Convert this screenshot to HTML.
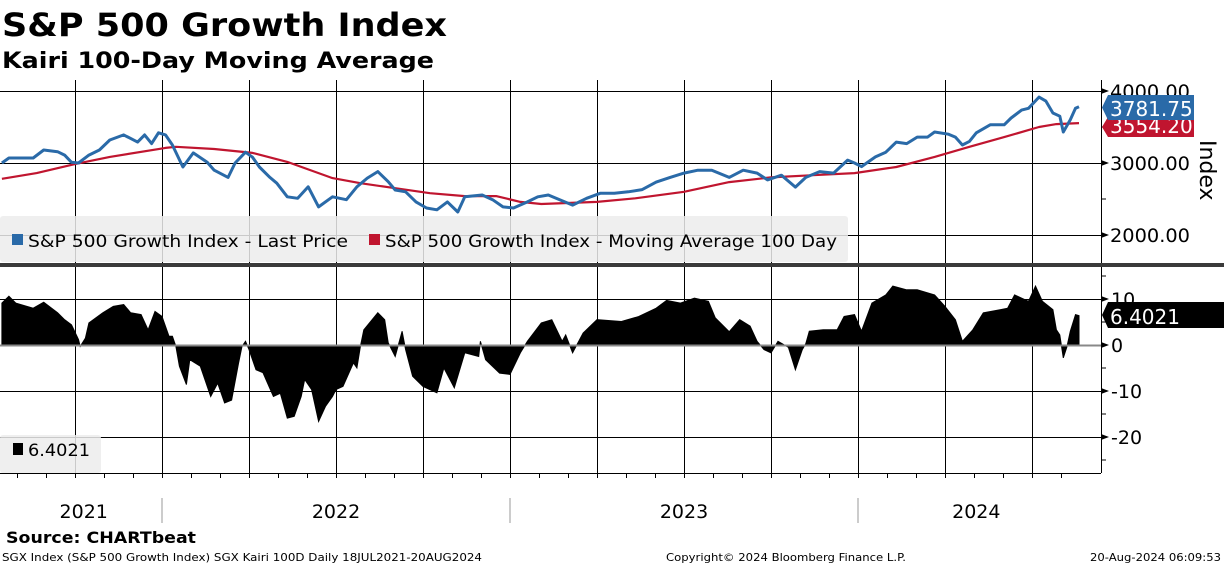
<!DOCTYPE html>
<html><head><meta charset="utf-8"><style>
html,body{margin:0;padding:0;background:#fff;}
svg{display:block;font-family:"DejaVu Sans","Liberation Sans",sans-serif;}
</style></head><body>
<svg id="chart" width="1224" height="566" viewBox="0 0 1224 566">
<text x="2" y="36" font-size="32" font-weight="bold" textLength="445" lengthAdjust="spacingAndGlyphs">S&amp;P 500 Growth Index</text>
<text x="2" y="68" font-size="22" font-weight="bold" textLength="432" lengthAdjust="spacingAndGlyphs">Kairi 100-Day Moving Average</text>
<g id="grid"></g>
<g id="series"></g>
<g id="axes"></g>
<rect x="0" y="216" width="848" height="46" rx="3" fill="#ececec" fill-opacity="0.85"/>
<rect x="12" y="234" width="11" height="11" fill="#2a6aa8"/>
<text x="28" y="247" font-size="17" textLength="320" lengthAdjust="spacingAndGlyphs">S&amp;P 500 Growth Index - Last Price</text>
<rect x="369" y="234" width="11" height="11" fill="#c0152f"/>
<text x="385" y="247" font-size="17" textLength="452" lengthAdjust="spacingAndGlyphs">S&amp;P 500 Growth Index - Moving Average 100 Day</text>
<rect x="0" y="263" width="1224" height="4" fill="#3a3a3a"/>
<rect x="0" y="435" width="101" height="38" rx="3" fill="#ececec" fill-opacity="0.85"/>
<rect x="13" y="443" width="10" height="12" fill="#000"/>
<text x="28" y="456" font-size="17" textLength="62" lengthAdjust="spacingAndGlyphs">6.4021</text>
<text x="6" y="543" font-size="16" font-weight="bold" textLength="190" lengthAdjust="spacingAndGlyphs">Source: CHARTbeat</text>
<text x="2" y="561" font-size="11" textLength="480" lengthAdjust="spacingAndGlyphs">SGX Index (S&amp;P 500 Growth Index) SGX Kairi 100D  Daily 18JUL2021-20AUG2024</text>
<text x="666" y="561" font-size="11" textLength="240" lengthAdjust="spacingAndGlyphs">Copyright© 2024 Bloomberg Finance L.P.</text>
<text x="1090" y="561" font-size="11" textLength="131" lengthAdjust="spacingAndGlyphs">20-Aug-2024 06:09:53</text>
</svg>
<script>
// ---- data ----
const priceDates = [2021.54,2021.56,2021.60,2021.63,2021.66,2021.70,2021.72,2021.74,2021.76,2021.79,2021.82,2021.85,2021.89,2021.93,2021.95,2021.97,2021.99,2022.01,2022.03,2022.06,2022.09,2022.13,2022.15,2022.19,2022.21,2022.24,2022.26,2022.28,2022.31,2022.33,2022.36,2022.39,2022.42,2022.45,2022.49,2022.53,2022.56,2022.59,2022.62,2022.65,2022.67,2022.70,2022.73,2022.76,2022.79,2022.82,2022.85,2022.87,2022.92,2022.95,2022.98,2023.01,2023.05,2023.08,2023.11,2023.13,2023.18,2023.22,2023.26,2023.30,2023.34,2023.38,2023.42,2023.46,2023.50,2023.54,2023.58,2023.63,2023.67,2023.71,2023.74,2023.78,2023.82,2023.85,2023.89,2023.93,2023.97,2023.99,2024.01,2024.05,2024.08,2024.11,2024.14,2024.17,2024.20,2024.22,2024.26,2024.28,2024.30,2024.32,2024.34,2024.38,2024.42,2024.44,2024.47,2024.49,2024.52,2024.54,2024.56,2024.58,2024.59,2024.61,2024.625,2024.635];
const priceValues = [3000,3070,3070,3070,3180,3157,3110,3010,3000,3110,3180,3320,3390,3290,3390,3270,3420,3390,3250,2945,3140,3010,2900,2800,3000,3150,3080,2945,2800,2720,2530,2510,2670,2390,2530,2490,2670,2790,2880,2740,2625,2600,2460,2375,2350,2460,2320,2530,2555,2490,2390,2375,2460,2530,2555,2515,2415,2510,2580,2580,2600,2630,2735,2800,2860,2900,2900,2800,2900,2860,2765,2830,2665,2800,2880,2860,3040,3000,2950,3085,3150,3290,3270,3360,3360,3430,3400,3360,3250,3300,3420,3530,3530,3625,3735,3760,3915,3860,3695,3650,3430,3600,3760,3782];
const maDates = [2021.54,2021.64,2021.75,2021.85,2022.01,2022.04,2022.15,2022.26,2022.36,2022.49,2022.57,2022.67,2022.77,2022.87,2022.96,2023.03,2023.09,2023.25,2023.36,2023.50,2023.63,2023.75,2023.87,2023.99,2024.11,2024.22,2024.32,2024.42,2024.52,2024.57,2024.635];
const maValues = [2780,2860,2985,3085,3210,3225,3195,3140,3015,2790,2720,2650,2580,2540,2540,2460,2430,2460,2510,2600,2735,2800,2830,2860,2945,3085,3225,3360,3500,3540,3554];
const kairiDates = [2021.54,2021.56,2021.58,2021.63,2021.66,2021.70,2021.72,2021.74,2021.76,2021.765,2021.78,2021.79,2021.83,2021.86,2021.89,2021.91,2021.94,2021.96,2021.98,2022.00,2022.02,2022.03,2022.04,2022.05,2022.07,2022.08,2022.11,2022.14,2022.16,2022.18,2022.20,2022.22,2022.23,2022.24,2022.25,2022.27,2022.29,2022.32,2022.34,2022.36,2022.38,2022.40,2022.41,2022.43,2022.45,2022.47,2022.49,2022.50,2022.52,2022.55,2022.56,2022.57,2022.58,2022.62,2022.64,2022.65,2022.67,2022.69,2022.70,2022.72,2022.75,2022.79,2022.81,2022.84,2022.87,2022.91,2022.915,2022.93,2022.97,2023.00,2023.03,2023.05,2023.09,2023.12,2023.15,2023.16,2023.18,2023.21,2023.25,2023.32,2023.37,2023.42,2023.45,2023.49,2023.53,2023.57,2023.59,2023.63,2023.66,2023.69,2023.71,2023.73,2023.75,2023.77,2023.80,2023.82,2023.84,2023.85,2023.86,2023.90,2023.94,2023.96,2023.99,2024.01,2024.04,2024.08,2024.10,2024.14,2024.17,2024.22,2024.25,2024.28,2024.30,2024.33,2024.36,2024.41,2024.43,2024.45,2024.49,2024.51,2024.53,2024.56,2024.57,2024.58,2024.59,2024.60,2024.61,2024.625,2024.635];
const kairiValues = [9.1,10.6,9.1,8,9.3,7,5.5,4.4,1.2,-0.3,1.5,4.8,7,8.4,8.8,7,6.6,3.3,7.3,6.2,1.9,1.9,-0.3,-4.6,-8.6,-3.2,-4.6,-11.2,-8.3,-12.6,-12,-3.9,-0.3,0.8,-1,-5.4,-6,-11.2,-10.5,-15.9,-15.5,-11.2,-7.5,-9.7,-16.6,-13.3,-11.2,-9.7,-9,-3.9,-5,-0.3,3.3,7,5.5,0.5,-2.5,3,-1,-6.8,-9,-10.4,-5,-9.3,-1.7,-2.5,0.8,-3.2,-6.1,-6.4,-1.7,0.8,4.8,5.5,0.8,2.2,-1.7,2.6,5.5,5.1,6.2,8,9.7,9.1,10.2,9.5,5.9,2.9,5.5,4.1,0.8,-1,-1.7,0.8,-0.5,-5.4,-1,0.3,3,3.3,3.3,6.2,6.6,3,9.1,10.9,12.8,12,12,10.9,8.4,5.5,0.8,3.3,7,7.7,8,10.9,9.5,12.8,9.5,7.7,3.3,2.2,-2.8,-0.5,3,6.6,6.4];
const priceTicks = [4000,3000,2000];
const priceTickLabels = ["4000.00","3000.00","2000.00"];
const kairiTicks = [10,0,-10,-20];
const kairiTickLabels = ["10","0","-10","-20"];
const yearLabels = ["2021","2022","2023","2024"];
const yearLabelPos = [2021.775,2022.5,2023.5,2024.34];
const lastPriceLabel = "3781.75";
const lastMaLabel = "3554.20";
const lastKairiLabel = "6.4021";

// ---- scales ----
const NS = "http://www.w3.org/2000/svg";
const X = t => 162 + (t - 2022) * 348;
const YP = v => 163 - (v - 3000) * 0.072;
const YK = v => 345 - v * 4.6;
const PLOT_R = 1101;
function mk(tag, attrs, parent){const e=document.createElementNS(NS,tag);for(const k in attrs)e.setAttribute(k,attrs[k]);parent.appendChild(e);return e;}
const grid=document.getElementById('grid'), series=document.getElementById('series'), axes=document.getElementById('axes');

// vertical quarterly grid
for(let y=2021.75;y<=2024.51;y+=0.25){
  const gx=Math.round(X(y))+0.5;
  const l=mk('line',{x1:gx,y1:80,x2:gx,y2:473,stroke:'#000','stroke-width':1},grid);
  
  
}
priceTicks.forEach(v=>{
  const l=mk('line',{x1:0,y1:YP(v)+0.5,x2:PLOT_R,y2:YP(v)+0.5,stroke:'#000','stroke-width':1},grid);
  
  
});
kairiTicks.forEach(v=>{
  const l=mk('line',{x1:0,y1:YK(v)+0.5,x2:PLOT_R,y2:YK(v)+0.5,stroke:v===0?'#888':'#000','stroke-width':v===0?2:1},grid);
  
  
});

// kairi area
let d='M'+X(kairiDates[0]).toFixed(1)+','+YK(0);
kairiDates.forEach((t,i)=>{d+=' L'+X(t).toFixed(1)+','+YK(kairiValues[i]).toFixed(1);});
d+=' L'+X(kairiDates[kairiDates.length-1]).toFixed(1)+','+YK(0)+' Z';
const ka=mk('path',{d:d,fill:'#000',stroke:'#000','stroke-width':1},series);


const zl=mk('line',{x1:0,y1:YK(0)+0.5,x2:PLOT_R,y2:YK(0)+0.5,stroke:'#888','stroke-width':2},series);



// MA and price lines
const maPts=maDates.map((t,i)=>X(t).toFixed(1)+','+YP(maValues[i]).toFixed(1)).join(' ');
const ma=mk('polyline',{points:maPts,fill:'none',stroke:'#c0152f','stroke-width':2.2,'stroke-linejoin':'round'},series);


const pPts=priceDates.map((t,i)=>X(t).toFixed(1)+','+YP(priceValues[i]).toFixed(1)).join(' ');
const pl=mk('polyline',{points:pPts,fill:'none',stroke:'#2a6aa8','stroke-width':3,'stroke-linejoin':'round'},series);



// axes
const ax=mk('line',{x1:PLOT_R+0.5,y1:80,x2:PLOT_R+0.5,y2:473,stroke:'#000','stroke-width':1},axes);


const xa=mk('line',{x1:0,y1:473.5,x2:PLOT_R,y2:473.5,stroke:'#000','stroke-width':1},axes);


function arrow(y){const a=mk('path',{d:`M${PLOT_R},${y-3} L${PLOT_R+8},${y} L${PLOT_R},${y+3} Z`,fill:'#000'},axes);
  
  }
priceTicks.forEach((v,i)=>{
  arrow(YP(v));
  const t=mk('text',{x:1110,y:YP(v)+7,'font-size':19,textLength:80,lengthAdjust:'spacingAndGlyphs'},axes);
  t.textContent=priceTickLabels[i];
  
  
});
[3500,2500].forEach(v=>{const m=mk('line',{x1:PLOT_R,y1:YP(v),x2:PLOT_R+5,y2:YP(v),stroke:'#000'},axes);
  
  });
kairiTicks.forEach((v,i)=>{
  arrow(YK(v));
  const t=mk('text',{x:1111,y:YK(v)+7,'font-size':19},axes);
  t.textContent=kairiTickLabels[i];
  
  
});
[15,5,-5,-15,-25].forEach(v=>{const m=mk('line',{x1:PLOT_R,y1:YK(v),x2:PLOT_R+5,y2:YK(v),stroke:'#000'},axes);
  
  });
const yt=mk('text',{x:0,y:0,'font-size':22,transform:'translate(1200,140) rotate(90)'},axes);
yt.textContent='Index';



// tags
function tag(y1,h,fill,txt,name,w){
  const g=mk('g',{},axes);
  
  
  mk('path',{d:`M1102,${y1+h/2} L1108,${y1} L${1102+w},${y1} L${1102+w},${y1+h} L1108,${y1+h} Z`,fill:fill},g);
  const t=mk('text',{x:1110,y:y1+h-4,'font-size':20,fill:'#fff'},g);t.textContent=txt;
}
tag(117,20,'#c0152f',lastMaLabel,'ma-value-tag',92);
tag(95,25,'#2a6aa8',lastPriceLabel,'price-value-tag',92);
tag(302,26,'#000',lastKairiLabel,'kairi-value-tag',122);

// month ticks & year labels
for(let m=7;m<=44;m++){const t=2021+m/12; if(t>2024.66)break;
  const mx=Math.round(X(t))+0.5;
  const l=mk('line',{x1:mx,y1:473,x2:mx,y2:478,stroke:'#000'},axes);
  
  }
[2022,2023,2024].forEach(y=>{const l=mk('line',{x1:X(y),y1:498,x2:X(y),y2:523,stroke:'#999'},axes);
  
  });
yearLabels.forEach((s,i)=>{const t=mk('text',{x:X(yearLabelPos[i]),y:518,'font-size':19,'text-anchor':'middle'},axes);
  t.textContent=s;
  
  });
</script>
</body></html>
